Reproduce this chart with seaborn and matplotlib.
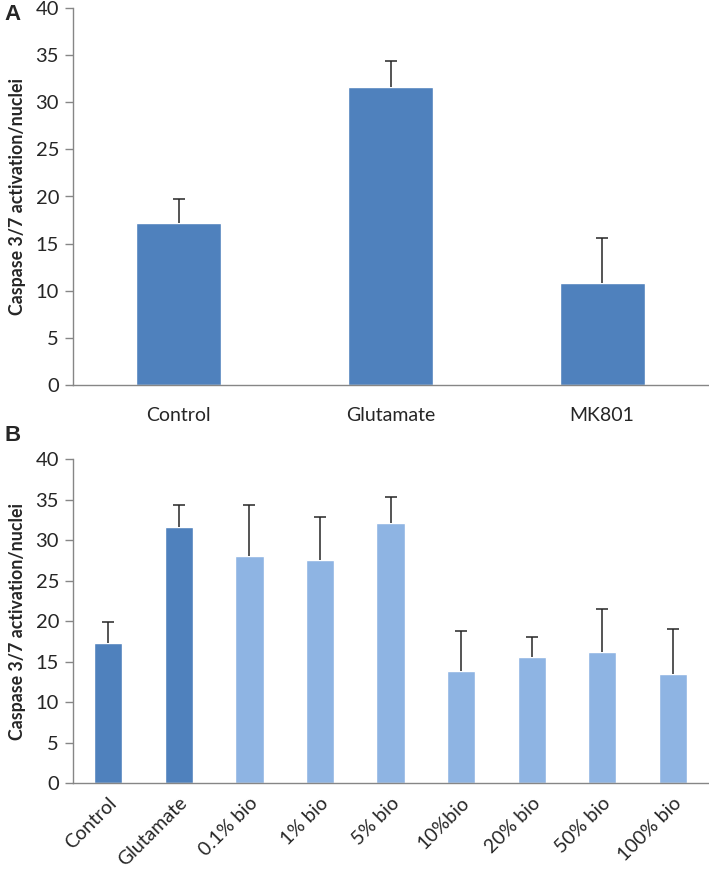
import numpy as np
import pandas as pd
import seaborn as sns
import matplotlib.pyplot as plt

# panel A
cats_a = ["Control", "Glutamate", "MK801"]
means_a = [17.2, 31.6, 10.8]
tops_a = [19.7, 34.4, 15.6]

# panel B
cats_b = ["Control", "Glutamate", "0.1% bio", "1% bio", "5% bio",
          "10%bio", "20% bio", "50% bio", "100% bio"]
means_b = [17.3, 31.6, 28.0, 27.5, 32.1, 13.8, 15.5, 16.2, 13.4]
tops_b = [19.9, 34.3, 34.3, 32.8, 35.3, 18.8, 18.0, 21.5, 19.0]

dark = "#4F81BD"
light = "#8EB4E3"
axis_grey = "#868686"

sns.set_style("white")
plt.rcParams['font.family'] = ['Lato', 'DejaVu Sans']

W, H = 709, 872
fig = plt.figure(figsize=(W / 100, H / 100), dpi=100)

def px_axes(left, right, top, bottom):
    return fig.add_axes([left / W, 1 - bottom / H, (right - left) / W, (bottom - top) / H])

ax_a = px_axes(73, 708, 8, 385)
ax_b = px_axes(73, 708, 459, 783)


def draw(ax, cats, means, tops, colors, width, rot):
    df = pd.DataFrame({"group": cats, "value": means})
    sns.barplot(data=df, x="group", y="value", hue="group", palette=colors,
                width=width, legend=False, ax=ax, saturation=1)
    x = np.arange(len(cats))
    # upper error bars only, drawn from the bar top like Excel
    ax.vlines(x, means, tops, color="#262626", lw=1.1, zorder=3)
    ax.plot(x, tops, ls="none", marker="_", ms=9, mew=1.1, color="#262626", zorder=3)
    ax.set_ylim(0, 40)
    ax.set_yticks(range(0, 41, 5))
    ax.set_xlim(-0.5, len(cats) - 0.5)
    ax.set_xlabel("")
    ax.set_ylabel("Caspase 3/7 activation/nuclei", fontsize=12.8, fontweight="bold", labelpad=7)
    for s in ["top", "right"]:
        ax.spines[s].set_visible(False)
    for s in ["left", "bottom"]:
        ax.spines[s].set_color(axis_grey)
        ax.spines[s].set_linewidth(1)
    # category boundary ticks like Excel
    ax.set_xticks(np.arange(len(cats) + 1) - 0.5, minor=True)
    ax.tick_params(axis="x", which="minor", length=6, color=axis_grey, width=1)
    ax.tick_params(axis="x", which="major", length=0, labelsize=14, pad=16, labelcolor="#262626")
    ax.tick_params(axis="y", length=6, color=axis_grey, width=1, labelsize=14.5,
                   direction="out", left=True, labelcolor="#262626", pad=4)
    ax.set_xticks(x)
    if rot:
        ax.set_xticklabels(cats, rotation=45, ha="right", rotation_mode="anchor")
        ax.tick_params(axis="x", which="major", pad=8)
    else:
        ax.set_xticklabels(cats)


draw(ax_a, cats_a, means_a, tops_a, [dark] * 3, 0.4, False)
draw(ax_b, cats_b, means_b, tops_b, [dark, dark] + [light] * 7, 0.4, True)

fig.text(4 / W, 1 - 14 / H, "A", fontsize=16, fontweight="bold", family="Liberation Sans", va="center")
fig.text(4 / W, 1 - 435 / H, "B", fontsize=16, fontweight="bold", family="Liberation Sans", va="center")

fig.savefig("out.png", dpi=100)
